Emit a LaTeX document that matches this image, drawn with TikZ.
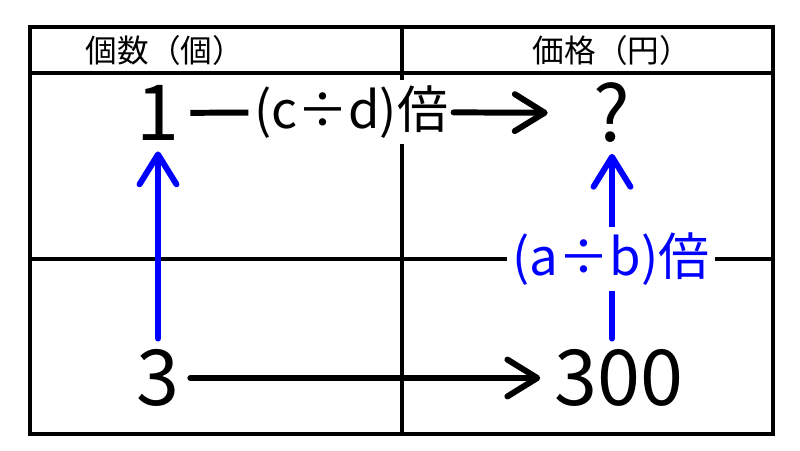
\documentclass[tikz,border=0pt]{standalone}
\usepackage{fontspec}
\setmainfont{Noto Sans CJK JP}
\usetikzlibrary{arrows.meta}

\begin{document}
\begin{tikzpicture}[x=0.02cm,y=-0.02cm,
    rule/.style={line width=2.4pt},
    head/.style={font=\fontsize{18}{18}\selectfont},
    num/.style={font=\fontsize{44}{44}\selectfont,inner sep=6pt},
    rate/.style={fill=white,font=\fontsize{29}{29}\selectfont,inner sep=3pt},
    arr/.style={line width=3.4pt,line cap=round,
                -{Straight Barb[length=17pt,width=21pt,round]}}]
  \useasboundingbox (0,0) rectangle (800,450);
  % the table: two columns, a header row and two rows of values
  \draw[line width=2.8pt] (30,27) rectangle (773,434);
  \draw[rule] (30,73) -- (773,73);
  \draw[rule] (30,259) -- (773,259);
  \draw[rule] (402,27) -- (402,434);
  \node[head] (hcount) at (165,50) {個数（個）};
  \node[head] (hprice) at (612,50) {価格（円）};
  \node[num] (one)  at (158,113) {1};
  \node[num] (ask)  at (612,113) {?};
  \node[num] (three) at (158,378) {3};
  \node[num] (yen)  at (619,378) {300};
  \node[rate] (cd) at (351,112) {(c÷d)倍};
  % across the rows
  \draw[line width=3.4pt] (one) -- (cd);
  \draw[arr,shorten >=20pt] (cd) -- (ask);
  \draw[arr,shorten >=2pt] (three) -- (yen);
  % up the columns
  \draw[arr,blue] (three) -- (one);
  \draw[arr,blue] (ask.south |- yen.north) -- (ask.south);
  \node[rate,text=blue] (ab) at (611,259) {(a÷b)倍};
\end{tikzpicture}
\end{document}
